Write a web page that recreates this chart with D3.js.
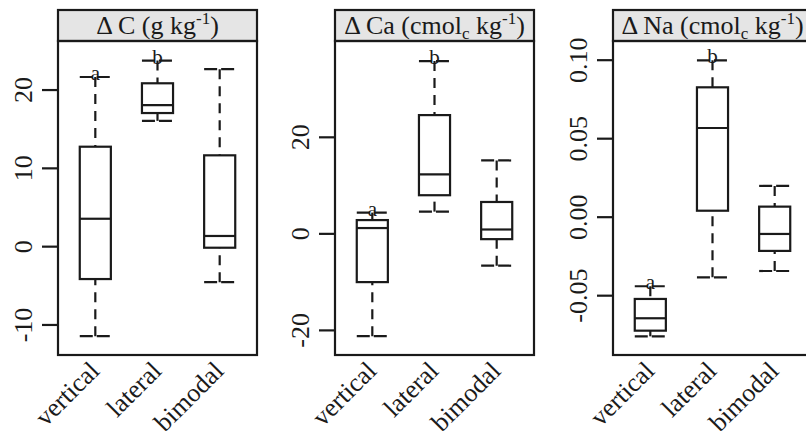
<!DOCTYPE html>
<html>
<head>
<meta charset="utf-8">
<script src="https://cdn.jsdelivr.net/npm/d3@7"></script>
<style>
  body { margin: 0; background: #fff; }
  svg { display: block; font-family: "Liberation Serif", "DejaVu Serif", serif; }
</style>
</head>
<body>
<div id="chart"></div>
<script>
// groups on the x axis (same for every panel)
const groups = ['vertical', 'lateral', 'bimodal'];

// box stats per group: [lower whisker, Q1, median, Q3, upper whisker]
const cStats = [
    [-11.5, -4.2, 3.5, 12.7, 21.6],
    [16.0, 17.0, 18.0, 20.8, 23.7],
    [-4.6, -0.2, 1.3, 11.6, 22.6]
];
const caStats = [
    [-21.3, -10.1, 1.1, 2.75, 4.3],
    [4.5, 7.9, 12.2, 24.5, 35.7],
    [-6.7, -1.2, 0.8, 6.5, 15.1]
];
const naStats = [
    [-0.0762, -0.0726, -0.0647, -0.0524, -0.0443],
    [-0.0386, 0.0038, 0.0565, 0.0824, 0.0996],
    [-0.0346, -0.0218, -0.011, 0.0064, 0.0196]
];

// significance letters over the boxes
const cLetters = ['a', 'b', ''];
const caLetters = ['a', 'b', ''];
const naLetters = ['a', 'b', ''];

// y tick values and their labels
const cTicks = [-10, 0, 10, 20];
const cTickLabels = ['-10', '0', '10', '20'];
const caTicks = [-20, 0, 20];
const caTickLabels = ['-20', '0', '20'];
const naTicks = [-0.05, 0, 0.05, 0.10];
const naTickLabels = ['-0.05', '0.00', '0.05', '0.10'];

// y ranges shown in each panel
const cDomain = [-13.9, 26.2];
const caDomain = [-25.2, 39.85];
const naDomain = [-0.0881, 0.1119];

const panels = [
    {title: ['\u0394 C (g kg', '-1', ')'], sub: null, stats: cStats, letters: cLetters, ticks: cTicks, labels: cTickLabels, domain: cDomain},
    {title: ['\u0394 Ca (cmol', 'c', ' kg', '-1', ')'], sub: true, stats: caStats, letters: caLetters, ticks: caTicks, labels: caTickLabels, domain: caDomain},
    {title: ['\u0394 Na (cmol', 'c', ' kg', '-1', ')'], sub: true, stats: naStats, letters: naLetters, ticks: naTicks, labels: naTickLabels, domain: naDomain}
];

const W = 806, H = 438;
const panelLeft = [58, 335, 613];
const panelW = 199;
const headTop = 10, plotTop = 41, plotBottom = 355;
const halfBox = 0.25;
const ink = '#1a1a1a';

const svg = d3.select('#chart').append('svg')
    .attr('width', W)
    .attr('height', H);

const x = d3.scaleLinear().domain([0.4, 3.6]).range([0, panelW]);

panels.forEach(function(p, pi) {
    const g = svg.append('g').attr('transform', 'translate(' + panelLeft[pi] + ',0)');
    const y = d3.scaleLinear().domain(p.domain).range([plotBottom, plotTop]);

    // header strip
    g.append('rect')
        .attr('x', 0).attr('y', headTop)
        .attr('width', panelW).attr('height', plotTop - headTop)
        .attr('fill', '#e5e5e5')
        .attr('stroke', ink).attr('stroke-width', 2.2);

    const title = g.append('text')
        .attr('x', panelW / 2).attr('y', plotTop - 7)
        .attr('text-anchor', 'middle')
        .attr('font-size', 26)
        .attr('fill', ink);
    if (p.sub) {
        title.append('tspan').text(p.title[0]);
        title.append('tspan').attr('font-size', 17).attr('dy', 5).text(p.title[1]);
        title.append('tspan').attr('dy', -5).text(p.title[2]);
        title.append('tspan').attr('font-size', 17).attr('dy', -10).text(p.title[3]);
        title.append('tspan').attr('dy', 10).text(p.title[4]);
    } else {
        title.append('tspan').text(p.title[0]);
        title.append('tspan').attr('font-size', 17).attr('dy', -10).text(p.title[1]);
        title.append('tspan').attr('dy', 10).text(p.title[2]);
    }

    // plot frame
    g.append('rect')
        .attr('x', 0).attr('y', plotTop)
        .attr('width', panelW).attr('height', plotBottom - plotTop)
        .attr('fill', 'none')
        .attr('stroke', ink).attr('stroke-width', 2.2);

    // y axis
    const axis = g.append('g')
        .call(d3.axisLeft(y)
            .tickValues(p.ticks)
            .tickSize(16)
            .tickFormat((d, i) => p.labels[i]));
    axis.select('.domain').remove();
    axis.selectAll('.tick line').attr('stroke', ink).attr('stroke-width', 2.2);
    axis.selectAll('.tick text')
        .attr('transform', 'rotate(-90)')
        .attr('x', 0).attr('y', -26).attr('dy', 0)
        .attr('text-anchor', 'middle')
        .attr('font-size', 26)
        .attr('font-family', '"Liberation Serif", serif')
        .attr('fill', ink);

    // boxes
    const box = g.selectAll('.box')
        .data(p.stats)
        .enter()
        .append('g')
        .attr('class', 'box');

    box.append('line')   // upper whisker
        .attr('x1', (d, i) => x(i + 1)).attr('x2', (d, i) => x(i + 1))
        .attr('y1', d => y(d[4])).attr('y2', d => y(d[3]))
        .attr('stroke', ink).attr('stroke-width', 2.2)
        .attr('stroke-dasharray', '10,7');
    box.append('line')   // lower whisker
        .attr('x1', (d, i) => x(i + 1)).attr('x2', (d, i) => x(i + 1))
        .attr('y1', d => y(d[0])).attr('y2', d => y(d[1]))
        .attr('stroke', ink).attr('stroke-width', 2.2)
        .attr('stroke-dasharray', '10,7');

    [0, 4].forEach(function(k) {
        box.append('line')   // staples
            .attr('x1', (d, i) => x(i + 1 - halfBox)).attr('x2', (d, i) => x(i + 1 + halfBox))
            .attr('y1', d => y(d[k])).attr('y2', d => y(d[k]))
            .attr('stroke', ink).attr('stroke-width', 2.2)
            .attr('stroke-dasharray', '13,4');
    });

    box.append('rect')
        .attr('x', (d, i) => x(i + 1 - halfBox))
        .attr('width', x(1 + halfBox) - x(1 - halfBox))
        .attr('y', d => y(d[3]))
        .attr('height', d => y(d[1]) - y(d[3]))
        .attr('fill', '#fff')
        .attr('stroke', ink).attr('stroke-width', 2.2);

    box.append('line')   // median
        .attr('x1', (d, i) => x(i + 1 - halfBox)).attr('x2', (d, i) => x(i + 1 + halfBox))
        .attr('y1', d => y(d[2])).attr('y2', d => y(d[2]))
        .attr('stroke', ink).attr('stroke-width', 2.2);

    box.append('text')
        .attr('x', (d, i) => x(i + 1))
        .attr('y', d => y(d[4]) + 3)
        .attr('text-anchor', 'middle')
        .attr('font-size', 21)
        .attr('fill', ink)
        .text((d, i) => p.letters[i]);

    // rotated group labels
    g.selectAll('.xlab')
        .data(groups)
        .enter()
        .append('text')
        .attr('class', 'xlab')
        .attr('transform', (d, i) => 'translate(' + (x(i + 1) - 1) + ',366) rotate(-45)')
        .attr('text-anchor', 'end')
        .attr('dy', '0.35em')
        .attr('font-size', 26)
        .attr('fill', ink)
        .text(d => d);
});
</script>
</body>
</html>
